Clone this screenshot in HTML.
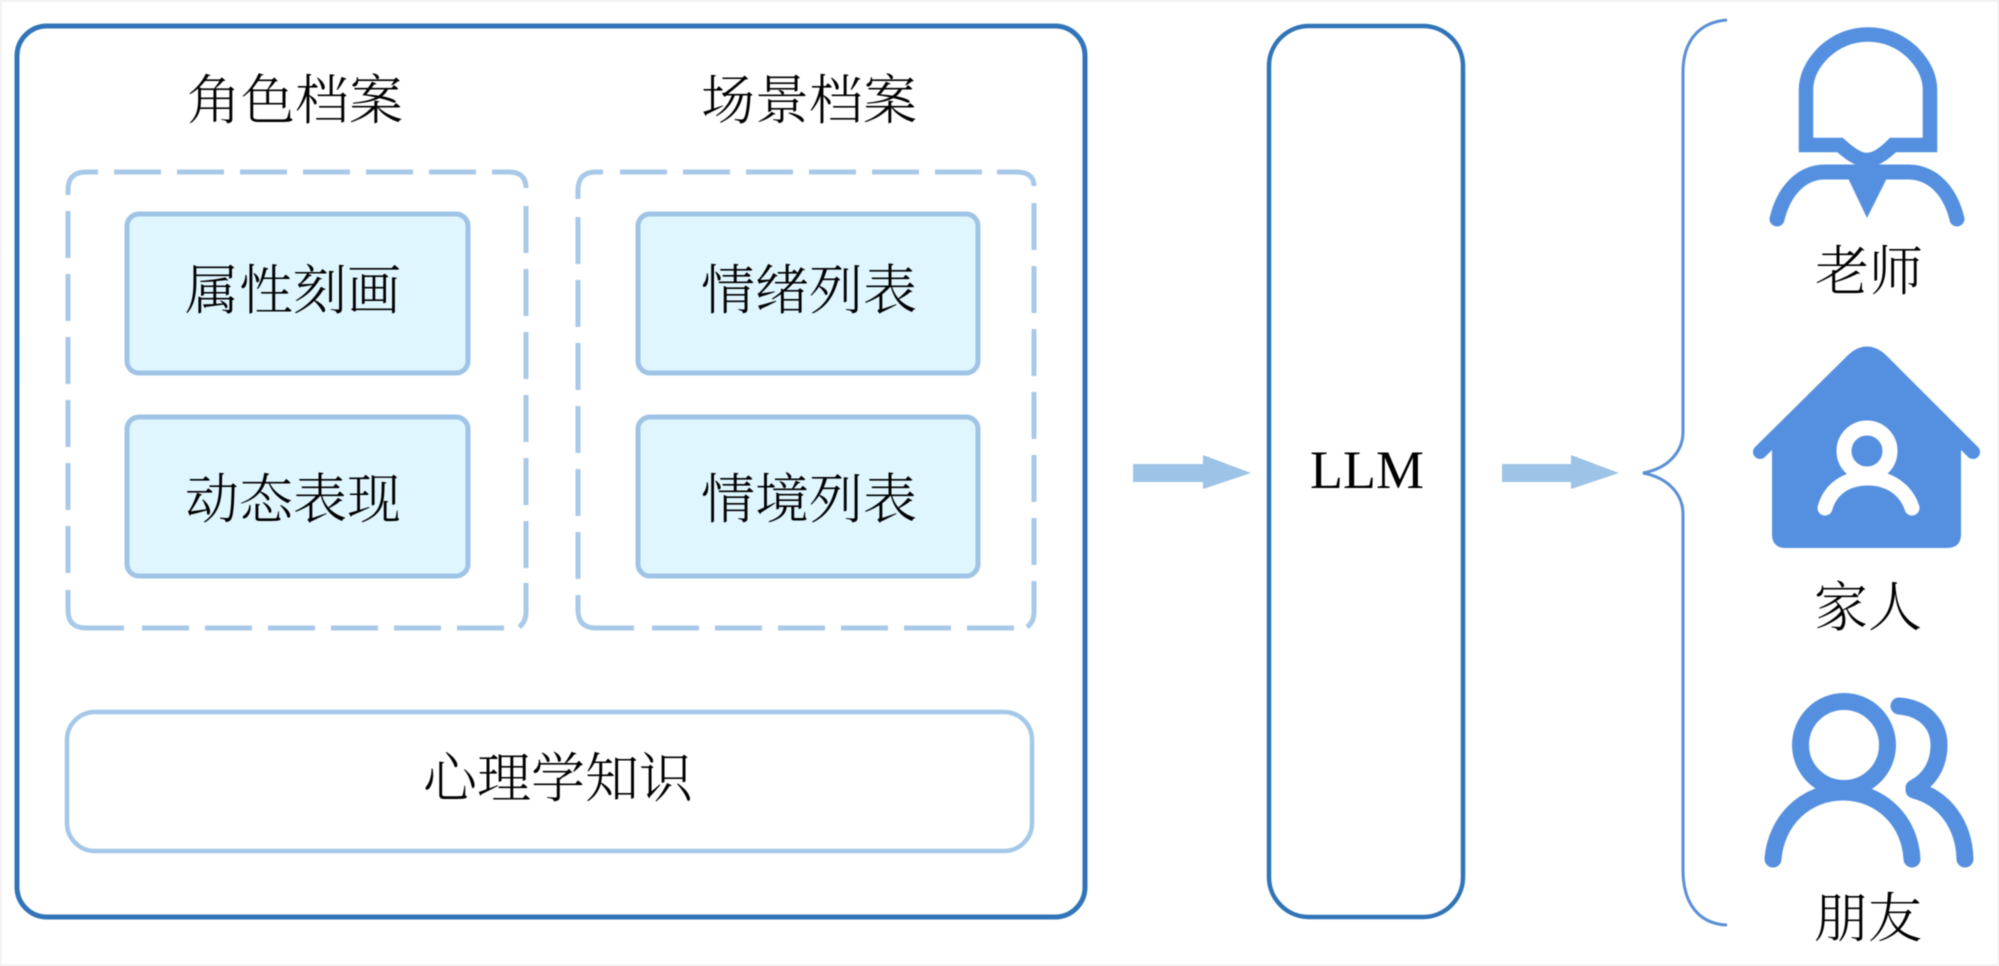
<!DOCTYPE html>
<html lang="zh">
<head>
<meta charset="utf-8">
<title>Diagram</title>
<style>
html,body{margin:0;padding:0;background:#fff;width:1999px;height:966px;overflow:hidden}
svg{display:block;position:absolute;left:0;top:0;filter:blur(.5px)}
text{font-family:"Liberation Serif","Noto Serif CJK SC",serif;fill:#000;font-size:54px;text-anchor:middle;font-weight:300}
</style>
</head>
<body>
<svg width="1999" height="966" viewBox="0 0 1999 966" xmlns="http://www.w3.org/2000/svg">
<rect x="0" y="0" width="1999" height="966" fill="#fff"/>
<rect x="0.5" y="0.5" width="1998" height="965" fill="none" stroke="#eeeeee" stroke-width="2"/>

<!-- main box -->
<rect x="17" y="26" width="1068" height="891" rx="30" fill="#fff" stroke="#3175b8" stroke-width="5"/>

<!-- dashed groups: corners -->
<g fill="none" stroke="#a9c9e8" stroke-width="5">
<path d="M68 195 V190 Q68 172 86 172 H98"/>
<path d="M492 172 H509 Q526 172 526 188"/>
<path d="M68 590 V610 Q68 628 86 628 H124"/>
<path d="M526 583 V612 Q526 622 519 627"/>
<path d="M578 199 V190 Q578 172 596 172 H603"/>
<path d="M997 172 H1016 Q1034 172 1034 186"/>
<path d="M578 595 V610 Q578 628 596 628 H634"/>
<path d="M1034 581 V612 Q1034 622 1027 627"/>
</g>
<!-- dashed groups: edges -->
<g fill="none" stroke="#a9c9e8" stroke-width="5" stroke-dasharray="47 16">
<path d="M114 172 H477"/>
<path d="M68 211 V574"/>
<path d="M142 628 H504"/>
<path d="M526 206 V568"/>
<path d="M620 172 H982"/>
<path d="M578 217 V580"/>
<path d="M652 628 H1014"/>
<path d="M1034 203 V566"/>
</g>

<!-- inner boxes -->
<g fill="#dff6ff" stroke="#9fc4e6" stroke-width="5">
<rect x="127" y="214" width="341" height="159" rx="12"/>
<rect x="127" y="417" width="341" height="159" rx="12"/>
<rect x="638" y="214" width="340" height="159" rx="12"/>
<rect x="638" y="417" width="340" height="159" rx="12"/>
</g>

<!-- psychology box -->
<rect x="67" y="712" width="965" height="139" rx="28" fill="#fff" stroke="#a5c8e8" stroke-width="4.5"/>

<!-- LLM box -->
<rect x="1269" y="26" width="194" height="891" rx="40" fill="#fff" stroke="#3175b8" stroke-width="4.5"/>

<!-- arrows -->
<g fill="#9dc3e6">
<polygon points="1133,464 1203,464 1203,455 1251,473 1203,489 1203,482 1133,482"/>
<polygon points="1502,464 1571,464 1571,455 1619,473 1571,489 1571,482 1502,482"/>
</g>

<!-- brace -->
<path d="M1727 20 C1700 22 1683 40 1683 72 V432 C1683 450 1670 468 1643 473 C1670 478 1683 496 1683 514 V870 C1683 905 1700 924 1727 925" fill="none" stroke="#5b8fd6" stroke-width="3"/>

<!-- teacher icon -->
<g fill="none" stroke="#5590e0">
<path d="M1806 145 V90 C1806 74 1814 62 1824 52 C1836 41 1851 34.5 1868 34.5 C1885 34.5 1900 41 1912 52 C1922 62 1930 74 1930 90 V145 H1893 C1885 153 1876 160 1867 160 C1858 160 1849 153 1840 145 Z" stroke-width="14.5"/>
<path d="M1777 219 C1784 190 1802 172 1825 172 H1908 C1932 172 1950 190 1957 219" stroke-width="15" stroke-linecap="round"/>
</g>
<polygon points="1847,176 1888,176 1867,218" fill="#5590e0"/>
<rect x="1859" y="160" width="16" height="12" fill="#5590e0"/>

<!-- house icon -->
<path d="M1772 445 L1852 361 Q1867 346 1882 361 L1961 445 V534 Q1961 548 1947 548 H1786 Q1772 548 1772 534 Z" fill="#5590e0"/>
<path d="M1760 452 L1852 361 Q1867 346 1882 361 L1973 452" fill="none" stroke="#5590e0" stroke-width="14" stroke-linecap="round" stroke-linejoin="round"/>
<circle cx="1867" cy="451" r="23" fill="none" stroke="#fff" stroke-width="15"/>
<path d="M1825 508 C1830 490 1845 478 1868 478 C1890 478 1906 490 1912 508" fill="none" stroke="#fff" stroke-width="15" stroke-linecap="round"/>

<!-- friends icon -->
<g fill="none" stroke="#5590e0" stroke-width="17" stroke-linecap="round">
<circle cx="1844" cy="745" r="43.5"/>
<path d="M1773 859 C1776 820 1806 792 1843 792 C1880 792 1910 820 1912 859"/>
<path d="M1899 706 C1925 708 1939 725 1939 745 C1939 764 1930 780 1914 788"/>
<path d="M1914 790 C1945 798 1964 825 1965 859"/>
</g>

<!-- labels -->
<text x="295" y="119">角色档案</text>
<text x="809" y="119">场景档案</text>
<text x="293" y="309">属性刻画</text>
<text x="293" y="518">动态表现</text>
<text x="809" y="309">情绪列表</text>
<text x="809" y="518">情境列表</text>
<text x="558" y="797">心理学知识</text>
<text x="1367" y="488">LLM</text>
<text x="1869" y="290">老师</text>
<text x="1868" y="626">家人</text>
<text x="1868" y="937">朋友</text>
</svg>
</body>
</html>
